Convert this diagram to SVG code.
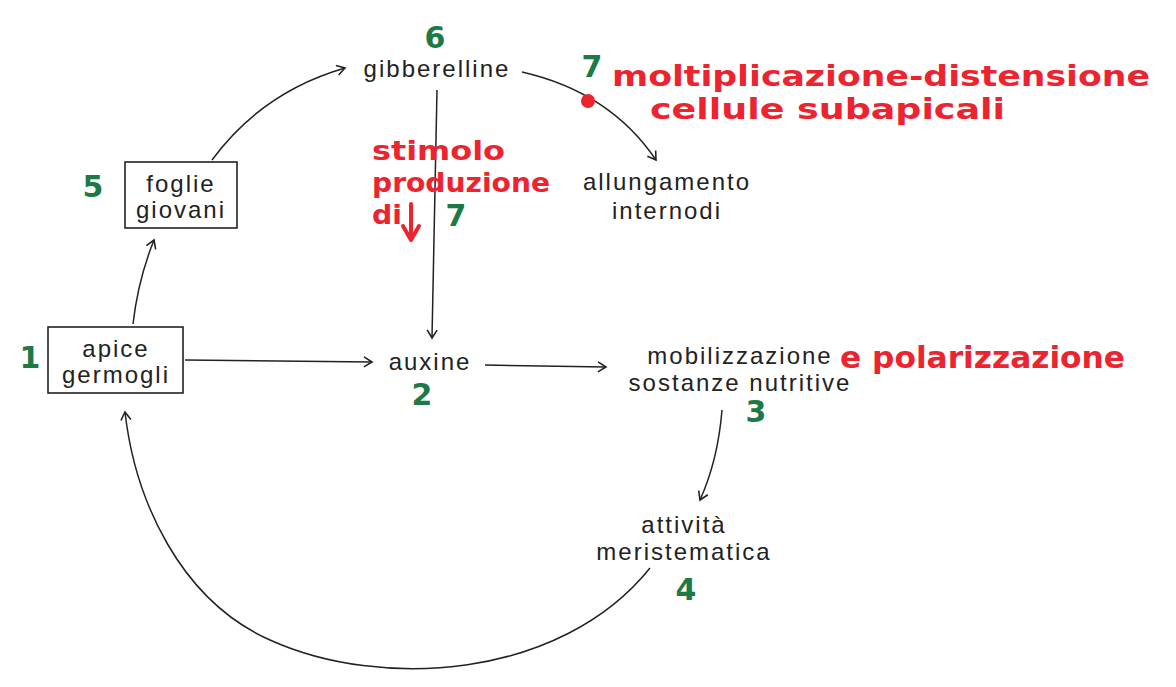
<svg xmlns="http://www.w3.org/2000/svg" width="1176" height="687" viewBox="0 0 1176 687">
<defs>
<style>
.t{font-family:"Liberation Sans",Arial,sans-serif;font-size:24px;fill:#222;letter-spacing:2px;text-anchor:middle}
.n{font-family:"DejaVu Sans",sans-serif;font-size:30px;font-weight:bold;fill:#1d7a45;text-anchor:middle}
.r{font-family:"DejaVu Sans",sans-serif;font-weight:bold;fill:#ec2430}
.box{fill:#fff;stroke:#222;stroke-width:1.6}
.c{fill:none;stroke:#222;stroke-width:1.5}
</style>
<marker id="ah" markerWidth="14" markerHeight="14" refX="10" refY="7" orient="auto" markerUnits="userSpaceOnUse">
<path d="M2,2 L10,7 L2,12" fill="none" stroke="#222" stroke-width="1.6"/>
</marker>
</defs>
<rect width="1176" height="687" fill="#fff"/>
<g id="connectors">
<path class="c" d="M133,324 Q138,280 154,240" marker-end="url(#ah)"/>
<path class="c" d="M212,160 Q262,92 345,68" marker-end="url(#ah)"/>
<path class="c" d="M522,72 Q610,92 656,160" marker-end="url(#ah)"/>
<path class="c" d="M437,90 L432,338" marker-end="url(#ah)"/>
<path class="c" d="M185,360 L372,362" marker-end="url(#ah)"/>
<path class="c" d="M485,365 L606,367" marker-end="url(#ah)"/>
<path class="c" d="M722,410 Q718,460 700,500" marker-end="url(#ah)"/>
<path class="c" d="M650,568 C560,680 380,690 270,640 C180,600 135,500 125,412" marker-end="url(#ah)"/>
</g>
<g id="apice">
<rect class="box" x="48" y="327" width="135" height="66"/>
<text class="t" x="116" y="357">apice</text>
<text class="t" x="116" y="383">germogli</text>
<text class="n" x="30" y="368">1</text>
</g>
<g id="auxine">
<text class="t" x="430" y="370">auxine</text>
<text class="n" x="422" y="405">2</text>
</g>
<g id="mobilizzazione">
<text class="t" x="740" y="364">mobilizzazione</text>
<text class="t" x="740" y="391">sostanze nutritive</text>
<text class="n" x="756" y="422">3</text>
<text class="r" x="840" y="368" font-size="30" textLength="285" lengthAdjust="spacingAndGlyphs">e polarizzazione</text>
</g>
<g id="attivita">
<text class="t" x="684" y="533">attività</text>
<text class="t" x="684" y="560">meristematica</text>
<text class="n" x="686" y="600">4</text>
</g>
<g id="foglie">
<rect class="box" x="125" y="162" width="112" height="66"/>
<text class="t" x="181" y="192">foglie</text>
<text class="t" x="181" y="218">giovani</text>
<text class="n" x="93" y="197">5</text>
</g>
<g id="gibberelline">
<text class="t" x="437" y="77">gibberelline</text>
<text class="n" x="435" y="48">6</text>
</g>
<g id="allungamento">
<text class="t" x="667" y="190">allungamento</text>
<text class="t" x="667" y="219">internodi</text>
</g>
<g id="note-moltiplicazione">
<text class="n" x="592" y="77">7</text>
<circle cx="588" cy="101" r="7" fill="#ec2430"/>
<text class="r" x="612" y="86" font-size="28" textLength="538" lengthAdjust="spacingAndGlyphs">moltiplicazione-distensione</text>
<text class="r" x="650" y="119" font-size="28" textLength="355" lengthAdjust="spacingAndGlyphs">cellule subapicali</text>
</g>
<g id="note-stimolo">
<text class="r" x="372" y="160" font-size="27" textLength="133" lengthAdjust="spacingAndGlyphs">stimolo</text>
<text class="r" x="372" y="192" font-size="27" textLength="178" lengthAdjust="spacingAndGlyphs">produzione</text>
<text class="r" x="372" y="224" font-size="27" textLength="30" lengthAdjust="spacingAndGlyphs">di</text>
<path d="M411,204 L411,236 M403,226 L411,240 L419,226" fill="none" stroke="#ec2430" stroke-width="4" stroke-linecap="round" stroke-linejoin="round"/>
<text class="n" x="456" y="226">7</text>
</g>
</svg>
